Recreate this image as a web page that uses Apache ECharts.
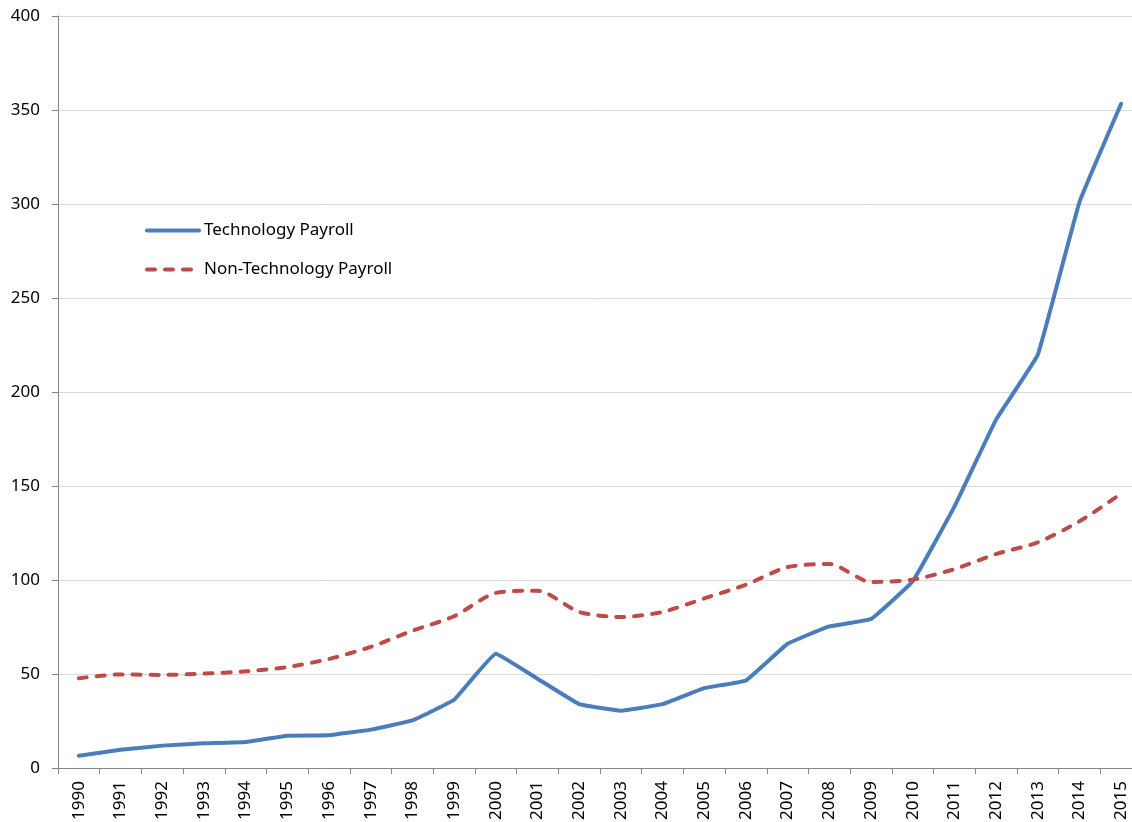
<!DOCTYPE html>
<html>
<head>
<meta charset="utf-8">
<script src="https://cdn.jsdelivr.net/npm/echarts@6/dist/echarts.min.js"></script>
<style>
	html, body { margin: 0; padding: 0; background: #ffffff; }
	#chart-box { width: 1132px; height: 822px; }
</style>
</head>
<body>
<div id="chart-box"></div>
<script>
// 年份
var years = ['1990', '1991', '1992', '1993', '1994', '1995', '1996', '1997', '1998', '1999',
	'2000', '2001', '2002', '2003', '2004', '2005', '2006', '2007', '2008', '2009',
	'2010', '2011', '2012', '2013', '2014', '2015'];

// 科技类工资
var techPayroll = [6.5, 9.7, 11.9, 13.1, 13.8, 17.2, 17.4, 20.4, 25.3, 36.3,
	60.8, 47.5, 34, 30.5, 34, 42.5, 46.6, 66.1, 75.3, 79.2,
	99.3, 139, 185.3, 219.8, 301, 353.3];

// 非科技类工资
var nonTechPayroll = [47.7, 49.8, 49.5, 50.2, 51.4, 53.7, 58, 64.4, 73, 80.7,
	93.1, 94.3, 83, 80.3, 83, 90.2, 97.5, 106.9, 108.5, 98.9,
	100.2, 105.8, 113.8, 120, 131.2, 145.9];

var yTicks = [0, 50, 100, 150, 200, 250, 300, 350, 400];

var fontFamily = '"Noto Sans", "Open Sans", sans-serif';
var chartInstance = echarts.init(document.getElementById('chart-box'));

var option = {
	backgroundColor: '#ffffff',
	animation: false,
	textStyle: { fontFamily: fontFamily },
	// 图表右侧超出画布（原图被裁切）
	grid: {
		left: 58,
		width: 1084,
		top: 16,
		bottom: 54,
		containLabel: false,
		outerBoundsMode: 'none',
	},
	legend: {
		orient: 'vertical',
		left: 145,
		top: 222,
		padding: 0,
		itemWidth: 52,
		itemHeight: 14,
		itemGap: 22,
		itemStyle: { opacity: 0 },
		lineStyle: { width: 4 },
		textStyle: { fontSize: 17, color: '#000000', fontFamily: fontFamily },
		data: ['Technology Payroll', 'Non-Technology Payroll'],
	},
	xAxis: {
		type: 'category',
		data: years,
		boundaryGap: true,
		axisLine: { lineStyle: { color: '#868686', width: 1 } },
		axisTick: { show: true, length: 6, alignWithLabel: false, lineStyle: { color: '#868686' } },
		axisLabel: {
			rotate: 90,
			interval: 0,
			margin: 13,
			fontSize: 17,
			color: '#000000',
		},
		splitLine: { show: false },
	},
	yAxis: {
		type: 'value',
		min: yTicks[0],
		max: yTicks[yTicks.length - 1],
		interval: 50,
		axisLine: { show: true, lineStyle: { color: '#868686', width: 1 } },
		axisTick: { show: true, length: 6, lineStyle: { color: '#868686' } },
		axisLabel: { margin: 18, fontSize: 17, color: '#000000' },
		splitLine: { lineStyle: { color: '#d9d9d9', width: 1 } },
	},
	series: [
		{
			name: 'Technology Payroll',
			type: 'line',
			data: techPayroll,
			symbol: 'none',
			smooth: 0.08,
			color: '#4a7ebb',
			lineStyle: { color: '#4a7ebb', width: 4, cap: 'round', join: 'round' },
		},
		{
			name: 'Non-Technology Payroll',
			type: 'line',
			data: nonTechPayroll,
			symbol: 'none',
			smooth: 0.25,
			color: '#be4b48',
			lineStyle: { color: '#be4b48', width: 4, type: [8, 10], cap: 'round' },
		},
	],
};

chartInstance.setOption(option);
</script>
</body>
</html>
